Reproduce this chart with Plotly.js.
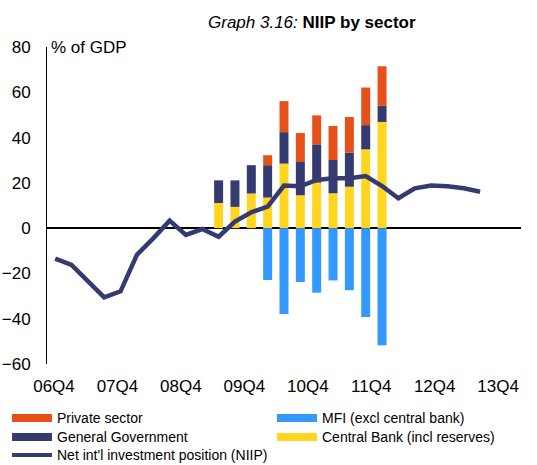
<!DOCTYPE html>
<html>
<head>
<meta charset="utf-8">
<script src="https://cdn.plot.ly/plotly-3.0.1.min.js"></script>
<style>html,body{margin:0;padding:0;background:#fff;}#chart{width:537px;height:465px;}</style>
</head>
<body>
<div id="chart"></div>
<script>
// Quarters on the category axis
var quarters = ['06Q4','07Q1','07Q2','07Q3','07Q4','08Q1','08Q2','08Q3','08Q4',
  '09Q1','09Q2','09Q3','09Q4','10Q1','10Q2','10Q3','10Q4','11Q1','11Q2','11Q3','11Q4',
  '12Q1','12Q2','12Q3','12Q4','13Q1','13Q2','13Q3','13Q4'];
// Tick labels shown under the axis
var tickLabels = ['06Q4','07Q4','08Q4','09Q4','10Q4','11Q4','12Q4','13Q4'];

// Net international investment position (% of GDP), 06Q4 .. 13Q2
var niipQuarters = ['06Q4','07Q1','07Q2','07Q3','07Q4','08Q1','08Q2','08Q3','08Q4',
  '09Q1','09Q2','09Q3','09Q4','10Q1','10Q2','10Q3','10Q4','11Q1','11Q2','11Q3','11Q4',
  '12Q1','12Q2','12Q3','12Q4','13Q1','13Q2'];
var niip = [-13.5,-16.2,-23.4,-30.6,-27.9,-11.8,-4.5,3.3,-3.0,
  -0.4,-3.8,2.9,7.0,9.5,18.8,18.5,21.3,22.0,22.0,23.0,18.6,
  13.2,17.6,18.8,18.5,17.6,16.1];

// Sector breakdown, 09Q2 .. 11Q4
var barQuarters = ['09Q2','09Q3','09Q4','10Q1','10Q2','10Q3','10Q4','11Q1','11Q2','11Q3','11Q4'];
var centralBank = [11.1,9.4,15.3,13.5,28.5,14.5,20.1,15.4,18.3,34.8,46.9];
var generalGov  = [10.0,11.7,12.5,14.3,13.9,14.7,16.9,14.7,15.0,10.7,7.1];
var privateSec  = [0,0,0,4.4,13.7,12.8,12.8,15.0,15.8,16.6,17.5];
var mfi         = [null,null,null,-22.9,-37.9,-23.8,-28.5,-23.1,-27.4,-39.2,-51.7];

var C_PRIV = '#E8501A', C_GG = '#353B70', C_MFI = '#3399FF', C_CB = '#FFD520', C_LINE = '#353B70';
var FONT = 'Liberation Sans, Arial, sans-serif';

function legendTrace(name, color, width, legend) {
  return {type:'scatter', mode:'lines', name:name, x:[null], y:[null], xaxis:'x2',
    line:{color:color, width:width}, legend:legend, hoverinfo:'skip'};
}

var traces = [
  {type:'bar', name:'Central Bank (incl reserves)', x:barQuarters, y:centralBank, marker:{color:C_CB}, width:0.55, showlegend:false},
  {type:'bar', name:'General Government', x:barQuarters, y:generalGov, marker:{color:C_GG}, width:0.55, showlegend:false},
  {type:'bar', name:'Private sector', x:barQuarters, y:privateSec, marker:{color:C_PRIV}, width:0.55, showlegend:false},
  {type:'bar', name:'MFI (excl central bank)', x:barQuarters, y:mfi, marker:{color:C_MFI}, width:0.55, showlegend:false},
  {type:'scatter', mode:'lines', name:"Net int'l investment position (NIIP)", x:niipQuarters, y:niip,
    line:{color:C_LINE, width:4.5}, showlegend:false},
  // legend entries (long swatches, laid out in two columns as in the reference)
  legendTrace('Private sector', C_PRIV, 8, 'legend'),
  legendTrace('MFI (excl central bank)', C_MFI, 8, 'legend2'),
  legendTrace('General Government', C_GG, 8, 'legend3'),
  legendTrace('Central Bank (incl reserves)', C_CB, 8, 'legend4'),
  legendTrace("Net int'l investment position (NIIP)", C_LINE, 4, 'legend5')
];

var PLOT_L = 47, PLOT_W = 537 - 47 - 16;
function legendAt(px, rowCenter) {
  return {orientation:'v', xref:'paper', yref:'container', xanchor:'left', yanchor:'top',
    x:(px - PLOT_L)/PLOT_W, y:1-(rowCenter-15.6)/465, itemwidth:40,
    font:{family:FONT, size:14, color:'#000'}, bgcolor:'rgba(0,0,0,0)', borderwidth:0};
}

var layout = {
  width:537, height:465,
  margin:{l:47, r:16, t:47, b:101},
  paper_bgcolor:'#fff', plot_bgcolor:'#fff',
  font:{family:FONT, color:'#000', size:17},
  barmode:'relative',
  title:{text:'<i>Graph 3.16:</i> <b>NIIP by sector</b>', x:300/537, xanchor:'center', xref:'paper',
    y:1-22/465, yanchor:'middle', font:{family:FONT, size:17, color:'#000'}},
  xaxis:{type:'category', categoryorder:'array', categoryarray:quarters, range:[-0.5, 28.5],
    showticklabels:false, ticks:'', showgrid:false, showline:false, zeroline:false},
  // label axis: same plot width, labels spaced as in the reference
  xaxis2:{overlaying:'x', anchor:'y', side:'bottom', type:'linear', range:[-0.11, 7.36],
    tickmode:'array', tickvals:[0,1,2,3,4,5,6,7], ticktext:tickLabels, ticks:'',
    showgrid:false, showline:false, zeroline:false,
    tickfont:{family:FONT, size:17, color:'#000'}, ticklabelstandoff:10},
  yaxis:{range:[-60,80], tickvals:[-60,-40,-20,0,20,40,60,80], ticks:'', showgrid:false,
    showline:true, linecolor:'#000', linewidth:1, zeroline:true, zerolinecolor:'#000', zerolinewidth:1.5,
    tickfont:{family:FONT, size:17, color:'#000'}, ticklabelstandoff:12},
  annotations:[{text:'% of GDP', xref:'paper', yref:'paper', x:0.004, y:1, xanchor:'left', yanchor:'middle',
    showarrow:false, font:{family:FONT, size:17, color:'#000'}}],
  legend:legendAt(7, 418),
  legend2:legendAt(272, 418),
  legend3:legendAt(7, 437),
  legend4:legendAt(272, 437),
  legend5:legendAt(7, 455),
  showlegend:true
};

Plotly.newPlot('chart', traces, layout, {displayModeBar:false, staticPlot:true});
</script>
</body>
</html>
